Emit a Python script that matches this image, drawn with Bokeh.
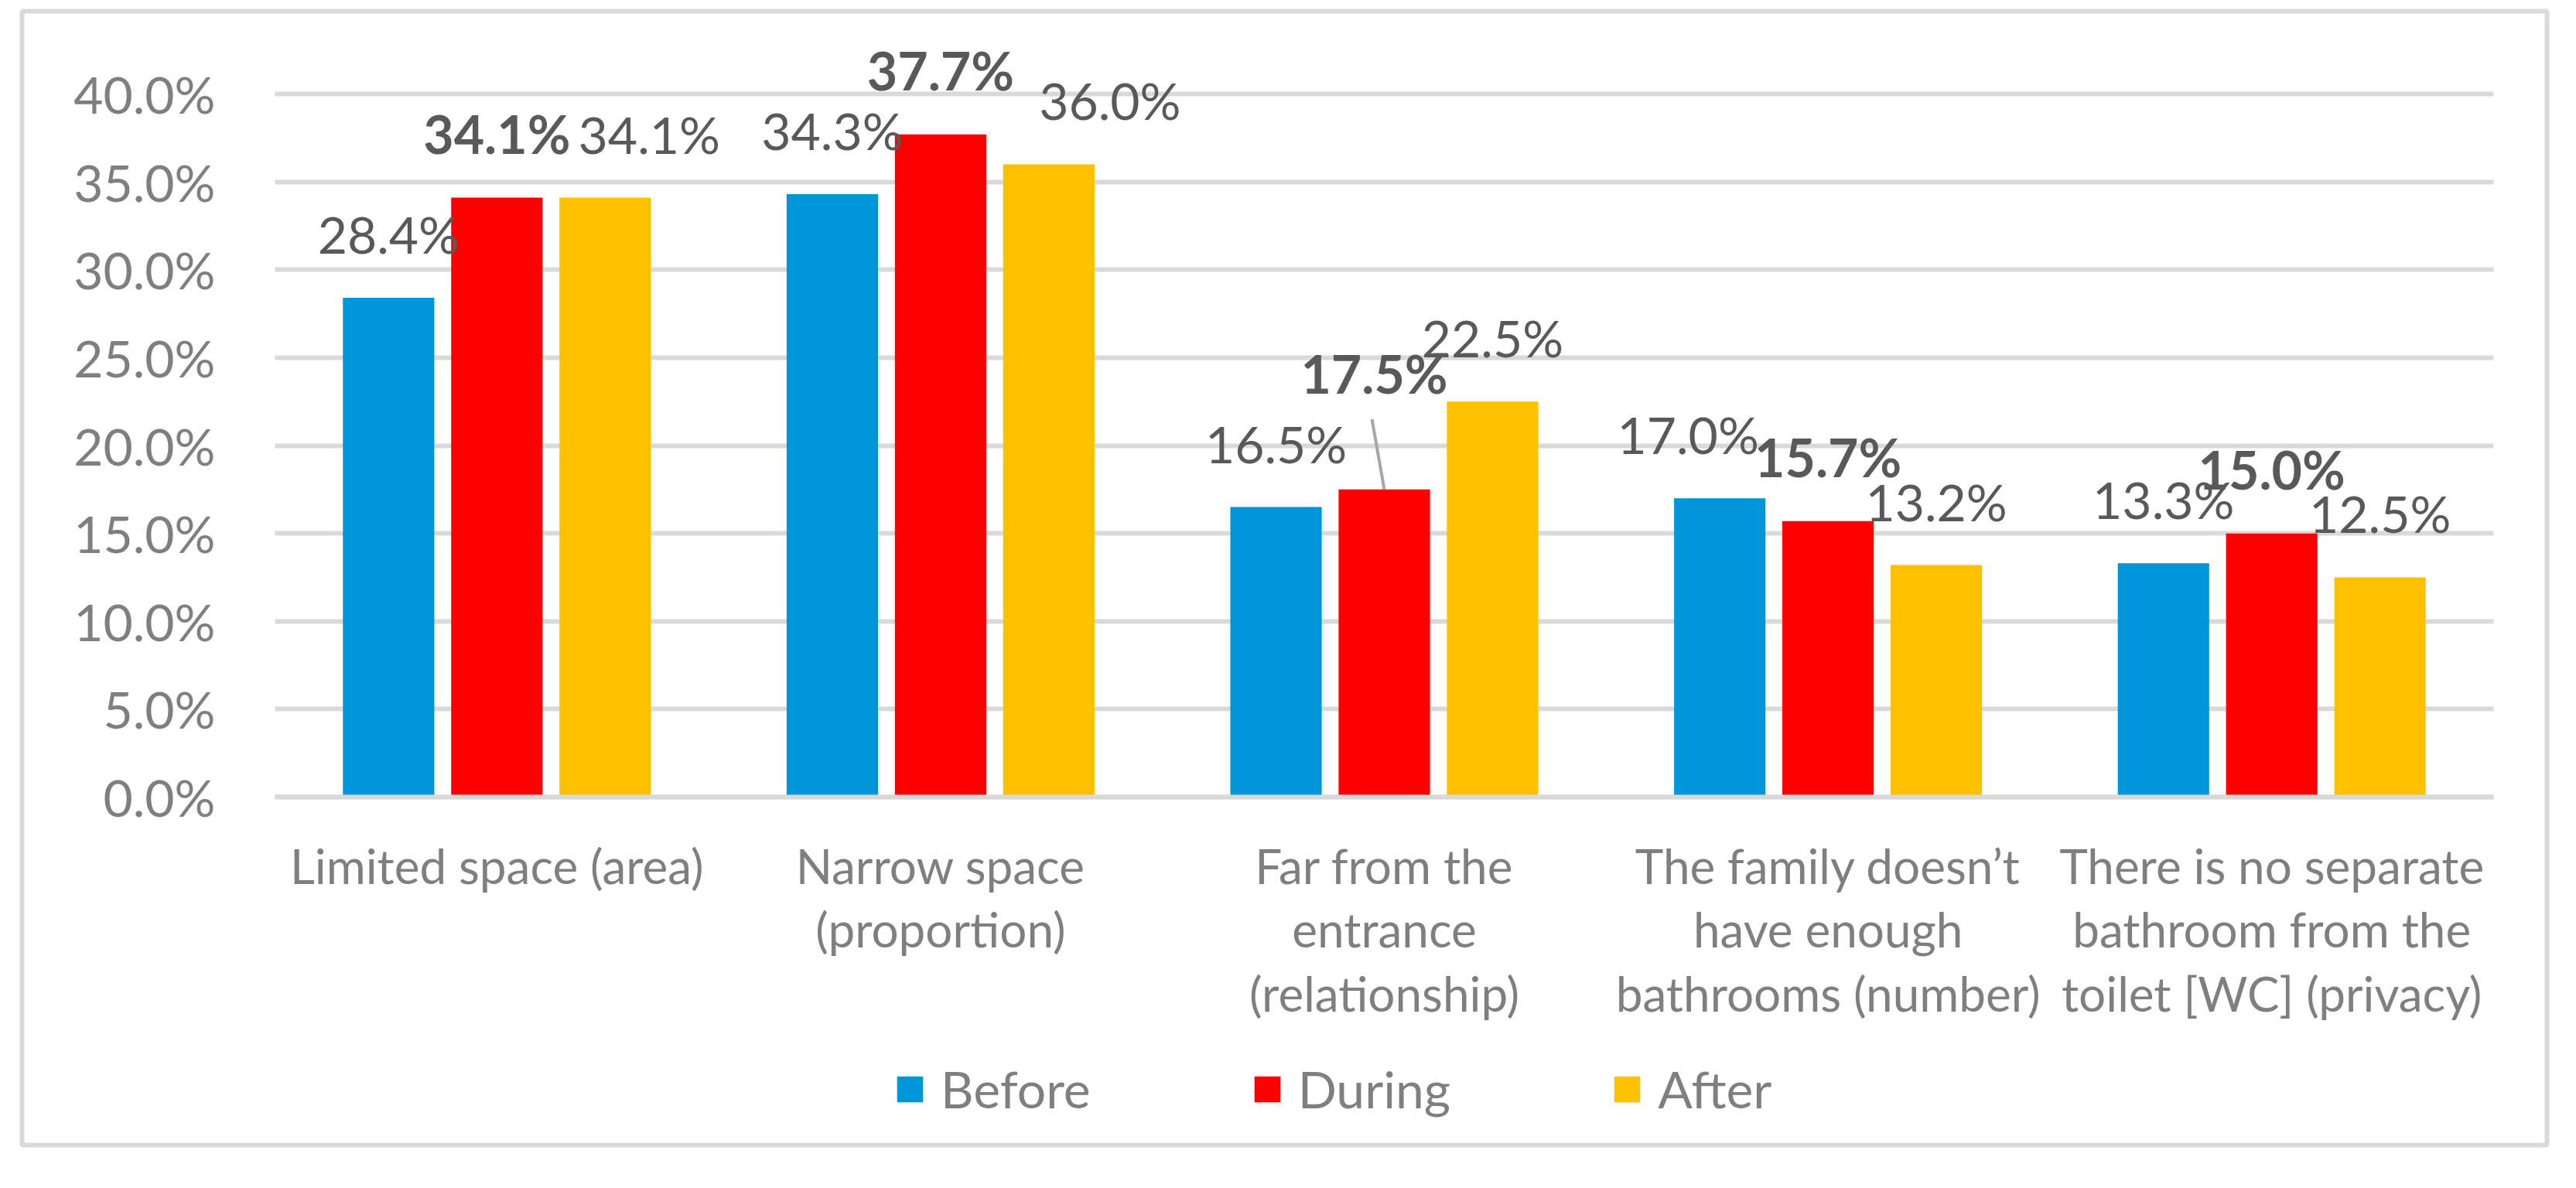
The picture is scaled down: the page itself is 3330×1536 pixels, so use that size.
from bokeh.plotting import figure
from bokeh.models import (Range1d, FixedTicker, PrintfTickFormatter,
                          ColumnDataSource, LabelSet, Legend, LegendItem)
from bokeh.core.properties import value
from bokeh.embed import file_html
from bokeh.resources import INLINE

# ---------------- data ----------------
categories = [
    "Limited space (area)",
    "Narrow space\n(proportion)",
    "Far from the\nentrance\n(relationship)",
    "The family doesn\u2019t\nhave enough\nbathrooms (number)",
    "There is no separate\nbathroom from the\ntoilet [WC] (privacy)",
]
series_names = ["Before", "During", "After"]
before = [28.4, 34.3, 16.5, 17.0, 13.3]
during = [34.1, 37.7, 17.5, 15.7, 15.0]
after = [34.1, 36.0, 22.5, 13.2, 12.5]
y_ticks = [0, 5, 10, 15, 20, 25, 30, 35, 40]

# label nudges (screen px) the author used to avoid overlaps
before_dx = [0, 0, 0, -41, 0]
during_dx = [0, 0, -13, 0, 0]
after_dx = [57, 79, 0, 0, 0]
during_lift = [57, 57, 124, 57, 57]

# ---------------- layout / style ----------------
FONT = "Lato"
colors = ["#0096D9", "#FF0000", "#FFC000"]
offsets = [-0.244, 0.0, 0.244]
bar_w = 0.206
W, H = 3314, 1520
# chart-area border (frame) in figure px
BL, BR, BT, BB = 28, 3292, 14, 1480
# plot-area in figure px
PL, PR, P0 = 355, 3223, 1030
PX_PER_PCT = 22.725
n = len(categories)
px_per_cat = (PR - PL) / n

x_start = -(PL - BL) / px_per_cat
x_end = n + (BR - PR) / px_per_cat
y_end = (P0 - BT) / PX_PER_PCT
y_start = -(BB - P0) / PX_PER_PCT

p = figure(width=W, height=H, x_range=Range1d(x_start, x_end),
           y_range=Range1d(y_start, y_end), output_backend="svg", toolbar_location=None,
           min_border_left=BL, min_border_right=W - BR, min_border_top=BT,
           min_border_bottom=H - BB)
p.outline_line_color = "#D9D9D9"
p.outline_line_width = 6
p.background_fill_color = "white"
p.border_fill_color = "white"

# axes placed inside the chart area
p.yaxis.fixed_location = 0
p.xaxis.fixed_location = 0

p.yaxis.ticker = FixedTicker(ticks=y_ticks)
p.yaxis.formatter = PrintfTickFormatter(format="%.1f%%")
p.yaxis.axis_line_color = None
p.yaxis.major_tick_line_color = None
p.yaxis.minor_tick_line_color = None
p.yaxis.major_label_text_font = FONT
p.yaxis.major_label_text_font_size = "66px"
p.yaxis.major_label_text_color = "#7F7F7F"
p.yaxis.major_label_standoff = 71

cat_pos = [k + 0.5 for k in range(n)]
p.xaxis.ticker = FixedTicker(ticks=cat_pos)
p.xaxis.major_label_overrides = {c: lab for c, lab in zip(cat_pos, categories)}
p.xaxis.bounds = (0, n)
p.xaxis.axis_line_color = "#D9D9D9"
p.xaxis.axis_line_width = 6
p.xaxis.major_tick_line_color = None
p.xaxis.minor_tick_line_color = None
p.xaxis.major_label_text_font = FONT
p.xaxis.major_label_text_font_size = "62px"
p.xaxis.major_label_text_color = "#7F7F7F"
p.xaxis.major_label_standoff = 45
p.xaxis.major_label_text_line_height = 1.12

# horizontal gridlines only over the plot area
p.xgrid.grid_line_color = None
yg = p.ygrid[0]
if "cross_bounds" in yg.properties():
    yg.cross_bounds = (0, n)
    yg.grid_line_color = "#D9D9D9"
    yg.grid_line_width = 6
else:
    yg.grid_line_color = None
    p.segment(x0=[0] * len(y_ticks), x1=[n] * len(y_ticks), y0=y_ticks, y1=y_ticks,
              line_color="#D9D9D9", line_width=6, level="underlay")

# bars + data labels
vals = [before, during, after]
dxs = [before_dx, during_dx, after_dx]
lifts = [[57] * n, during_lift, [57] * n]
items = []
for i, name in enumerate(series_names):
    src = ColumnDataSource(dict(
        x=[c + offsets[i] for c in cat_pos], v=vals[i],
        lab=["%.1f%%" % v for v in vals[i]],
        dx=dxs[i], dy=lifts[i]))
    r = p.vbar(x="x", top="v", width=bar_w, source=src,
               fill_color=colors[i], line_color=None)
    items.append(LegendItem(label=name, renderers=[r]))
    bold = name == "During"
    p.add_layout(LabelSet(x="x", y="v", text="lab", source=src,
                          x_offset="dx", y_offset="dy",
                          text_align="center", text_baseline="alphabetic",
                          text_font=value(FONT),
                          text_font_size="68px" if bold else "66px",
                          text_color="#595959",
                          text_font_style="bold" if bold else "normal"))

# leader line for the moved label (During, 3rd category)
k = 2
xc = cat_pos[k] + offsets[1]
p.segment(x0=[xc], y0=[during[k]], x1=[xc - 16 / px_per_cat],
          y1=[during[k] + 91 / PX_PER_PCT], line_color="#A6A6A6", line_width=4)

legend = Legend(items=items, orientation="horizontal",
                location=(1163 - 8 - BL, 33),
                glyph_width=42, glyph_height=42, label_standoff=19, spacing=207,
                padding=0, margin=0, border_line_color=None, background_fill_alpha=0,
                label_text_font=FONT, label_text_font_size="66px",
                label_text_color="#7F7F7F", label_height=42)
p.add_layout(legend, "center")

open("out.html", "w").write(file_html(p, INLINE))
